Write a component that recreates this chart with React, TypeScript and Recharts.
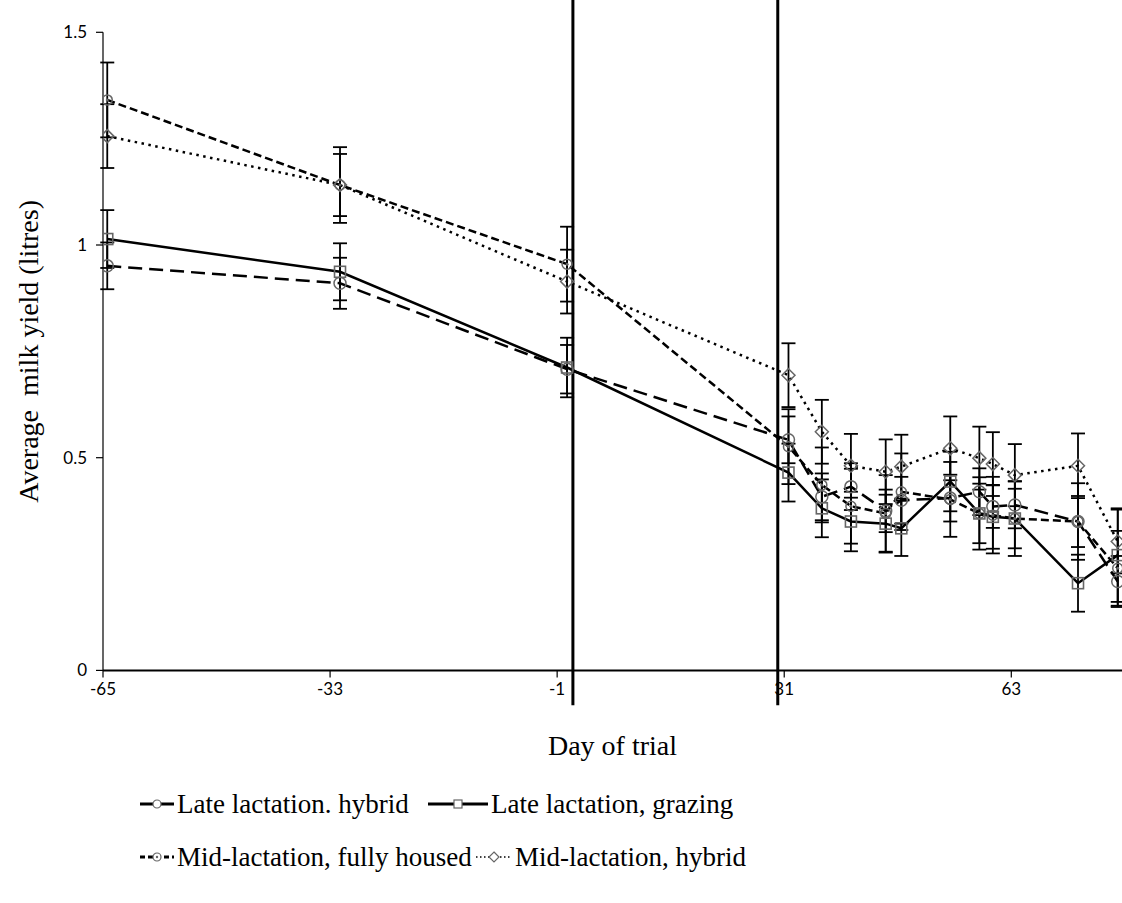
import React from "react";
import {
  ComposedChart,
  Line,
  XAxis,
  YAxis,
  ErrorBar,
  ReferenceLine,
  Label,
} from "recharts";

// day of trial for every sampling point
const days = [-64.4, -31.6, 0.4, 31.6, 36.3, 40.4, 45.3, 47.5, 54.4, 58.5, 60.4, 63.5, 72.4, 78.0];

const lateHybrid = [0.951, 0.91, 0.708, 0.542, 0.408, 0.432, 0.375, 0.4, 0.405, 0.42, 0.385, 0.389, 0.35, 0.209];
const lateHybridErr = [0.055, 0.06, 0.057, 0.055, 0.055, 0.055, 0.05, 0.055, 0.055, 0.055, 0.05, 0.055, 0.06, 0.06];

const lateGrazing = [1.014, 0.937, 0.712, 0.465, 0.381, 0.35, 0.345, 0.334, 0.444, 0.369, 0.361, 0.357, 0.205, 0.271];
const lateGrazingErr = [0.068, 0.067, 0.07, 0.068, 0.068, 0.07, 0.068, 0.065, 0.07, 0.07, 0.075, 0.07, 0.067, 0.11];

const midHoused = [1.341, 1.141, 0.955, 0.526, 0.436, 0.386, 0.369, 0.42, 0.402, 0.369, 0.365, 0.357, 0.35, 0.24];
const midHousedErr = [0.088, 0.089, 0.088, 0.088, 0.088, 0.088, 0.09, 0.09, 0.088, 0.085, 0.09, 0.088, 0.09, 0.088];

const midHybrid = [1.256, 1.141, 0.914, 0.694, 0.561, 0.481, 0.467, 0.479, 0.522, 0.499, 0.485, 0.459, 0.481, 0.303];
const midHybridErr = [0.075, 0.073, 0.075, 0.075, 0.075, 0.075, 0.076, 0.075, 0.075, 0.074, 0.075, 0.073, 0.076, 0.075];

const xTicks = [-65, -33, -1, 31, 63];
const yTicks = [0, 0.5, 1, 1.5];

// the two vertical period markers
const periodLines = [1.22, 30.09];

const data = days.map((day, i) => ({
  day,
  lateHybrid: lateHybrid[i],
  lateHybridErr: lateHybridErr[i],
  lateGrazing: lateGrazing[i],
  lateGrazingErr: lateGrazingErr[i],
  midHoused: midHoused[i],
  midHousedErr: midHousedErr[i],
  midHybrid: midHybrid[i],
  midHybridErr: midHybridErr[i],
}));

const MARK = "#666";
const serif = "'Liberation Serif', 'Times New Roman', serif";
const sans = "Lato, 'Open Sans', sans-serif";

const OpenCircle = (p: any) =>
  p.cx == null ? null : (
    <circle cx={p.cx} cy={p.cy} r={6} fill="none" stroke={MARK} strokeWidth={1.5} />
  );

const OpenSquare = (p: any) =>
  p.cx == null ? null : (
    <rect x={p.cx - 5.5} y={p.cy - 5.5} width={11} height={11} fill="none" stroke={MARK} strokeWidth={1.6} />
  );

const DotCircle = (p: any) =>
  p.cx == null ? null : (
    <g>
      <circle cx={p.cx} cy={p.cy} r={5} fill="none" stroke={MARK} strokeWidth={1.5} />
      <circle cx={p.cx} cy={p.cy} r={1.5} fill={MARK} />
    </g>
  );

const Diamond = (p: any) =>
  p.cx == null ? null : (
    <path
      d={`M${p.cx},${p.cy - 6.5}L${p.cx + 6.5},${p.cy}L${p.cx},${p.cy + 6.5}L${p.cx - 6.5},${p.cy}Z`}
      fill="none"
      stroke={MARK}
      strokeWidth={1.5}
    />
  );

const legendItems = [
  { name: "Late lactation. hybrid", dash: "", weight: 3, marker: "circle" },
  { name: "Late lactation, grazing", dash: "", weight: 3, marker: "square" },
  { name: "Mid-lactation, fully housed", dash: "5 3", weight: 3, marker: "dotcircle" },
  { name: "Mid-lactation, hybrid", dash: "1.5 2.5", weight: 1.5, marker: "diamond" },
];

const LegendSymbol = ({ dash, weight, marker, w }: { dash: string; weight: number; marker: string; w: number }) => {
  const c = w / 2;
  return (
    <svg width={w} height={20} style={{ display: "block" }}>
      <line x1={0} y1={10} x2={w} y2={10} stroke="#000" strokeWidth={weight} strokeDasharray={dash || undefined} />
      {marker === "circle" && <circle cx={c} cy={10} r={4} fill="#fff" stroke={MARK} strokeWidth={1.2} />}
      {marker === "square" && <rect x={c - 4} y={6} width={8} height={8} fill="#fff" stroke={MARK} strokeWidth={1.2} />}
      {marker === "dotcircle" && (
        <g>
          <circle cx={c} cy={10} r={4} fill="#fff" stroke={MARK} strokeWidth={1.2} />
          <circle cx={c} cy={10} r={1.2} fill={MARK} />
        </g>
      )}
      {marker === "diamond" && (
        <path d={`M${c},5L${c + 5},10L${c},15L${c - 5},10Z`} fill="#fff" stroke={MARK} strokeWidth={1.2} />
      )}
    </svg>
  );
};

const legendPos = [
  { left: 140, top: 789, w: 34 },
  { left: 428, top: 789, w: 60 },
  { left: 140, top: 842, w: 34 },
  { left: 476, top: 842, w: 36 },
];

export default function App() {
  return (
    <div style={{ position: "absolute", left: 0, top: 0, width: 1122, height: 903, background: "#fff", overflow: "hidden" }}>
      <ComposedChart
        width={1122}
        height={903}
        data={data}
        margin={{ top: 32.3, right: 0, left: 0, bottom: 142.6 }}
      >
        <XAxis
          type="number"
          dataKey="day"
          domain={[-65, 78.6]}
          ticks={xTicks}
          allowDataOverflow
          height={90}
          axisLine={{ stroke: "#000", strokeWidth: 2 }}
          tickLine={{ stroke: "#000", strokeWidth: 1.2 }}
          tickSize={7}
          tickMargin={6}
          tick={{ fill: "#000", fontSize: 17, fontFamily: sans }}
        >
          <Label
            value="Day of trial"
            position="insideBottom"
            offset={5}
            style={{ fontFamily: serif, fontSize: 28, fill: "#000" }}
          />
        </XAxis>
        <YAxis
          type="number"
          domain={[0, 1.5]}
          ticks={yTicks}
          width={103}
          axisLine={{ stroke: "#000", strokeWidth: 1.2 }}
          tickLine={{ stroke: "#000", strokeWidth: 1.2 }}
          tickSize={7}
          tickMargin={9}
          tick={{ fill: "#000", fontSize: 17, fontFamily: sans }}
        >
          <Label
            value={"Average\u00A0 milk yield (litres)"}
            angle={-90}
            position="insideLeft"
            offset={28}
            style={{ fontFamily: serif, fontSize: 28, fill: "#000", textAnchor: "middle" }}
          />
        </YAxis>

        {periodLines.map((d) => (
          <ReferenceLine
            key={d}
            segment={[
              { x: d, y: 1.58 },
              { x: d, y: -0.082 },
            ]}
            ifOverflow="visible"
            stroke="#000"
            strokeWidth={3}
          />
        ))}

        <Line
          type="linear"
          dataKey="midHybrid"
          stroke="#000"
          strokeWidth={2.5}
          strokeDasharray="2.5 4.5"
          dot={<Diamond />}
          activeDot={false}
          isAnimationActive={false}
        >
          <ErrorBar dataKey="midHybridErr" width={7} stroke="#000" strokeWidth={1.8} direction="y" isAnimationActive={false} />
        </Line>
        <Line
          type="linear"
          dataKey="midHoused"
          stroke="#000"
          strokeWidth={2.5}
          strokeDasharray="8 4"
          dot={<DotCircle />}
          activeDot={false}
          isAnimationActive={false}
        >
          <ErrorBar dataKey="midHousedErr" width={7} stroke="#000" strokeWidth={1.8} direction="y" isAnimationActive={false} />
        </Line>
        <Line
          type="linear"
          dataKey="lateHybrid"
          stroke="#000"
          strokeWidth={2.5}
          strokeDasharray="14 7"
          dot={<OpenCircle />}
          activeDot={false}
          isAnimationActive={false}
        >
          <ErrorBar dataKey="lateHybridErr" width={7} stroke="#000" strokeWidth={1.8} direction="y" isAnimationActive={false} />
        </Line>
        <Line
          type="linear"
          dataKey="lateGrazing"
          stroke="#000"
          strokeWidth={2.5}
          dot={<OpenSquare />}
          activeDot={false}
          isAnimationActive={false}
        >
          <ErrorBar dataKey="lateGrazingErr" width={7} stroke="#000" strokeWidth={1.8} direction="y" isAnimationActive={false} />
        </Line>
      </ComposedChart>

      {legendItems.map((item, i) => (
        <div
          key={item.name}
          style={{
            position: "absolute",
            left: legendPos[i].left,
            top: legendPos[i].top,
            display: "flex",
            alignItems: "center",
            fontFamily: serif,
            fontSize: 27,
            lineHeight: "30px",
            color: "#000",
            whiteSpace: "nowrap",
          }}
        >
          <LegendSymbol dash={item.dash} weight={item.weight} marker={item.marker} w={legendPos[i].w} />
          <span style={{ marginLeft: 3 }}>{item.name}</span>
        </div>
      ))}
    </div>
  );
}
